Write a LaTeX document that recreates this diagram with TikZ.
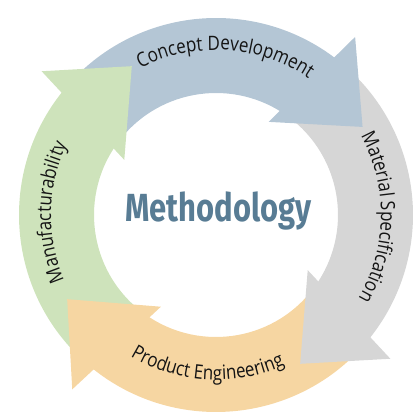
\documentclass[tikz,border=0pt]{standalone}
\usepackage{fontspec}
\setmainfont{Open Sans}
\newfontfamily\labelfont[FakeStretch=0.86]{Open Sans}
\newfontfamily\titlefont[FakeStretch=0.79]{Fira Sans}
\usetikzlibrary{decorations.text}
\definecolor{color1}{RGB}{180,198,213}
\definecolor{color2}{RGB}{214,214,214}
\definecolor{color3}{RGB}{246,214,162}
\definecolor{color4}{RGB}{206,227,187}
\definecolor{color5}{RGB}{88,124,148}
\definecolor{color6}{RGB}{20,20,20}

\begin{document}
\begin{tikzpicture}[
    x=0.5pt, y=0.5pt,
    arclabel/.style={decorate, decoration={text along path, text align=center, text color=color6,
        text={|\labelfont\fontsize{9.9}{12}\selectfont|#1}}}
]
\useasboundingbox (-216,-198) rectangle (198,215);

% 环形主体
\fill[color1] (139.5:197) arc[start angle=139.5, end angle=51, radius=197] -- (51:122) arc[start angle=51, end angle=139.5, radius=122] -- cycle;
\fill[color2] (51:197) arc[start angle=51, end angle=-40.5, radius=197] -- (-40.5:122) arc[start angle=-40.5, end angle=51, radius=122] -- cycle;
\fill[color3] (-40.5:197) arc[start angle=-40.5, end angle=-130.5, radius=197] -- (-130.5:122) arc[start angle=-130.5, end angle=-40.5, radius=122] -- cycle;
\fill[color4] (229.5:197) arc[start angle=229.5, end angle=139.5, radius=197] -- (139.5:122) arc[start angle=139.5, end angle=229.5, radius=122] -- cycle;

% 箭头
\fill[color1] (52:226) -- (31:171) -- (60.5:107) -- cycle;
\fill[color2] (-39.5:226) -- (-60.5:171) -- (-31:107) -- cycle;
\fill[color3] (230.5:226) -- (209.5:171) -- (239:107) -- cycle;
\fill[color4] (140.5:226) -- (119.5:171) -- (149:107) -- cycle;

% 弧形标签
\path[arclabel={Concept Development}] (130:165) arc[start angle=130, end angle=43, radius=165];
\path[arclabel={Material Specification}] (44:165) arc[start angle=44, end angle=-45.5, radius=165];
\path[arclabel={Product Engineering}] (220:165) arc[start angle=220, end angle=313.5, radius=165];
\path[arclabel={Manufacturability}] (222:165) arc[start angle=222, end angle=136, radius=165];

% 中间标题
\node[font=\titlefont\bfseries\fontsize{19.6}{22}\selectfont, text=color5, anchor=base, inner sep=0pt] (title) at (2.5,-7) {Methodology};

\end{tikzpicture}
\end{document}
